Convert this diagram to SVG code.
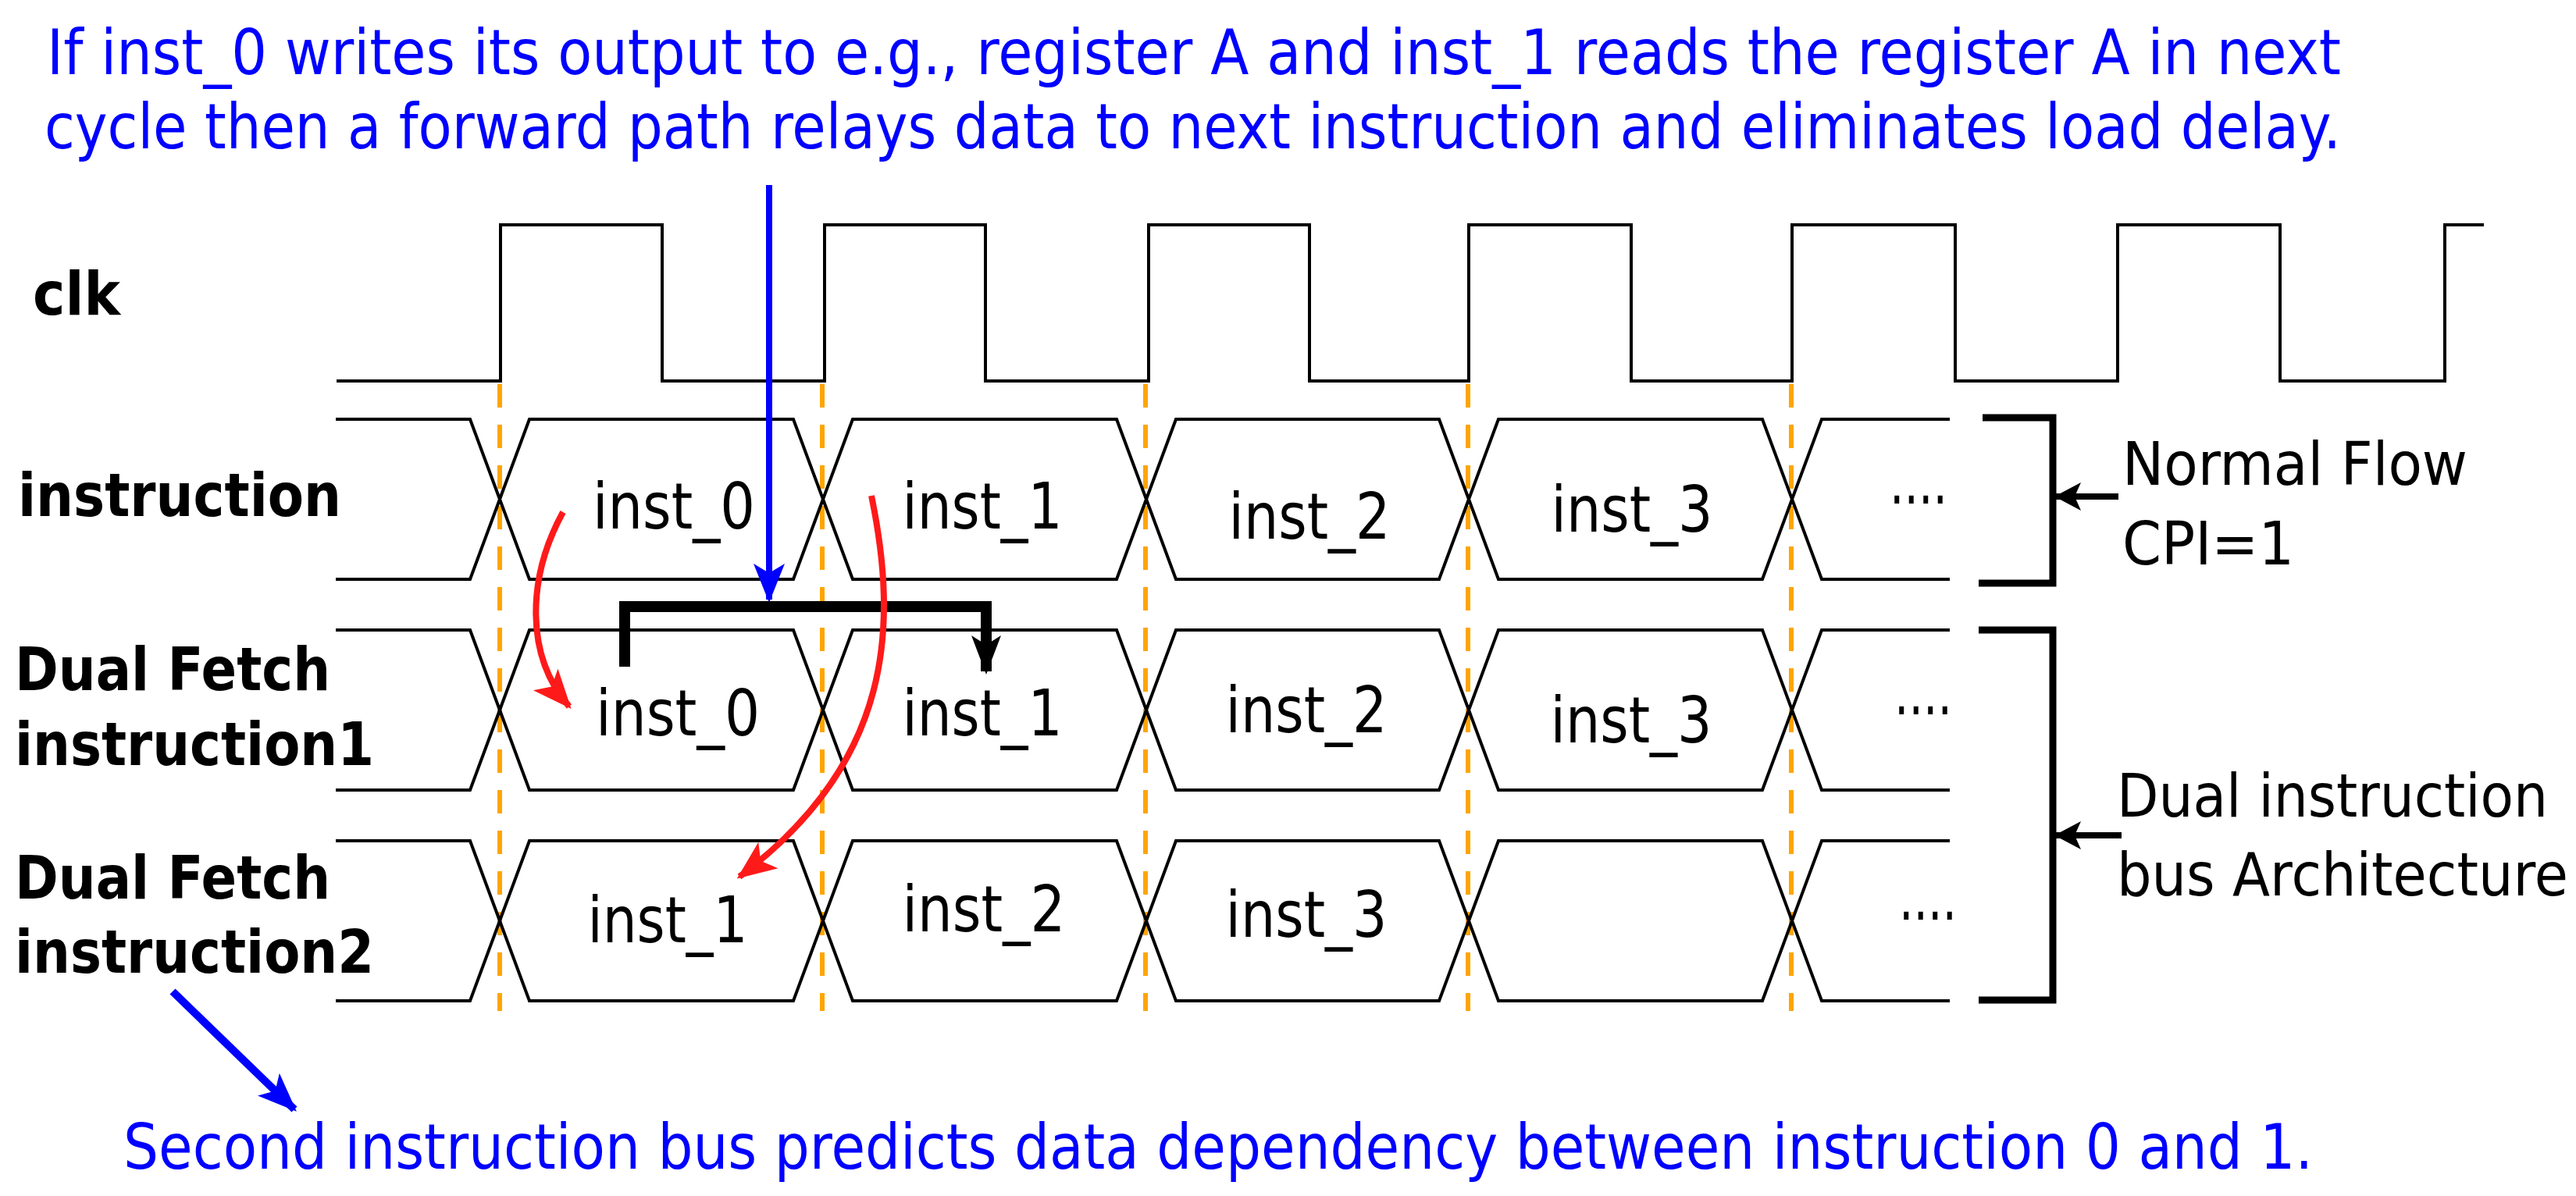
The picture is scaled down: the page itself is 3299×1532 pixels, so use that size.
<svg xmlns="http://www.w3.org/2000/svg" width="3299" height="1532" viewBox="0 0 3299 1532">
<style>
.t{font-family:"DejaVu Sans","Liberation Sans",sans-serif}
.lab{font-size:76px;font-weight:bold;fill:#000}
.ins{font-size:82px;fill:#000;text-anchor:middle}
.dots{font-size:82px;fill:#000;font-family:"DejaVu Sans",sans-serif}
.blue{font-size:80px;fill:#0000FF}
.side{font-size:76px;fill:#000}
.sig{fill:none;stroke:#000;stroke-width:4}
.dash{stroke:#FFA500;stroke-width:6;stroke-dasharray:30 22}
</style>
<defs>
<marker id="mb" markerUnits="userSpaceOnUse" markerWidth="50" markerHeight="50" viewBox="0 0 50 50" refX="46" refY="25" orient="auto"><path d="M0,5 L50,25 L0,45 L12,25 Z" fill="#0000FF"/></marker>
<marker id="mr" markerUnits="userSpaceOnUse" markerWidth="50" markerHeight="50" viewBox="0 0 50 50" refX="46" refY="25" orient="auto"><path d="M0,4 L50,25 L0,46 L12,25 Z" fill="#FF1A1A"/></marker>
<marker id="mk" markerUnits="userSpaceOnUse" markerWidth="50" markerHeight="50" viewBox="0 0 50 50" refX="46" refY="25" orient="auto"><path d="M0,6 L50,25 L0,44 L12,25 Z" fill="#000"/></marker>
<marker id="mk2" markerUnits="userSpaceOnUse" markerWidth="34" markerHeight="40" viewBox="0 0 34 40" refX="32" refY="20" orient="auto"><path d="M0,2 L34,20 L0,38 L8,20 Z" fill="#000"/></marker>
</defs>
<rect width="3299" height="1532" fill="#fff"/>
<g id="note-top" class="t blue">
<text x="60" y="95" textLength="2938" lengthAdjust="spacingAndGlyphs">If inst_0 writes its output to e.g., register A and inst_1 reads the register A in next</text>
<text x="57" y="190" textLength="2941" lengthAdjust="spacingAndGlyphs">cycle then a forward path relays data to next instruction and eliminates load delay.</text>
</g>
<g id="note-bottom" class="t blue"><text x="158" y="1497" textLength="2804" lengthAdjust="spacingAndGlyphs">Second instruction bus predicts data dependency between instruction 0 and 1.</text></g>
<g id="labels" class="t lab">
<text x="42" y="403" textLength="112" lengthAdjust="spacingAndGlyphs">clk</text>
<text x="23" y="661" textLength="414" lengthAdjust="spacingAndGlyphs">instruction</text>
<text x="19" y="884" textLength="404" lengthAdjust="spacingAndGlyphs">Dual Fetch</text>
<text x="19" y="980" textLength="460" lengthAdjust="spacingAndGlyphs">instruction1</text>
<text x="19" y="1151" textLength="404" lengthAdjust="spacingAndGlyphs">Dual Fetch</text>
<text x="19" y="1246" textLength="460" lengthAdjust="spacingAndGlyphs">instruction2</text>
</g>
<g id="clk"><path class="sig" d="M431,488 H641 V288 H848 V488 H1056 V288 H1262 V488 H1471 V288 H1677 V488 H1881 V288 H2089 V488 H2295 V288 H2504 V488 H2712 V288 H2920 V488 H3131 V288 H3181"/></g>
<g id="edges">
<line class="dash" x1="640" y1="492" x2="640" y2="1295"/>
<line class="dash" x1="1053" y1="492" x2="1053" y2="1295"/>
<line class="dash" x1="1467" y1="492" x2="1467" y2="1295"/>
<line class="dash" x1="1880" y1="492" x2="1880" y2="1295"/>
<line class="dash" x1="2294" y1="492" x2="2294" y2="1295"/>
</g>
<g id="row-instruction">
<path class="sig" d="M430,537 H602 L678,742 H1016 L1092,537 H1430 L1506,742 H1843 L1919,537 H2257 L2333,742 H2497"/>
<path class="sig" d="M430,742 H602 L678,537 H1016 L1092,742 H1430 L1506,537 H1843 L1919,742 H2257 L2333,537 H2497"/>
<g class="t ins"><text x="863" y="677" textLength="208" lengthAdjust="spacingAndGlyphs">inst_0</text><text x="1258" y="677" textLength="205" lengthAdjust="spacingAndGlyphs">inst_1</text><text x="1677" y="690" textLength="207" lengthAdjust="spacingAndGlyphs">inst_2</text><text x="2090" y="681" textLength="207" lengthAdjust="spacingAndGlyphs">inst_3</text></g>
<text class="dots" x="2420" y="668" textLength="74" lengthAdjust="spacingAndGlyphs">····</text>
</g>
<g id="row-df1">
<path class="sig" d="M430,807 H602 L678,1012 H1016 L1092,807 H1430 L1506,1012 H1843 L1919,807 H2257 L2333,1012 H2497"/>
<path class="sig" d="M430,1012 H602 L678,807 H1016 L1092,1012 H1430 L1506,807 H1843 L1919,1012 H2257 L2333,807 H2497"/>
<g class="t ins"><text x="868" y="942" textLength="210" lengthAdjust="spacingAndGlyphs">inst_0</text><text x="1258" y="942" textLength="205" lengthAdjust="spacingAndGlyphs">inst_1</text><text x="1673" y="938" textLength="207" lengthAdjust="spacingAndGlyphs">inst_2</text><text x="2089" y="951" textLength="207" lengthAdjust="spacingAndGlyphs">inst_3</text></g>
<text class="dots" x="2426" y="938" textLength="74" lengthAdjust="spacingAndGlyphs">····</text>
</g>
<g id="row-df2">
<path class="sig" d="M430,1077 H602 L678,1282 H1016 L1092,1077 H1430 L1506,1282 H1843 L1919,1077 H2257 L2333,1282 H2497"/>
<path class="sig" d="M430,1282 H602 L678,1077 H1016 L1092,1282 H1430 L1506,1077 H1843 L1919,1282 H2257 L2333,1077 H2497"/>
<g class="t ins"><text x="855" y="1207" textLength="205" lengthAdjust="spacingAndGlyphs">inst_1</text><text x="1260" y="1193" textLength="209" lengthAdjust="spacingAndGlyphs">inst_2</text><text x="1673" y="1200" textLength="207" lengthAdjust="spacingAndGlyphs">inst_3</text></g>
<text class="dots" x="2432" y="1201" textLength="74" lengthAdjust="spacingAndGlyphs">····</text>
</g>
<g id="brace-normal">
<path d="M2539,535 H2629 V747 H2534" fill="none" stroke="#000" stroke-width="9"/>
<text class="t side" x="2718" y="621" textLength="442" lengthAdjust="spacingAndGlyphs">Normal Flow</text>
<text class="t side" x="2718" y="723" textLength="220" lengthAdjust="spacingAndGlyphs">CPI=1</text>
</g>
<g id="brace-dual">
<path d="M2534,807 H2629 V1281 H2534" fill="none" stroke="#000" stroke-width="9"/>
<text class="t side" x="2711" y="1046" textLength="552" lengthAdjust="spacingAndGlyphs">Dual instruction</text>
<text class="t side" x="2711" y="1147" textLength="578" lengthAdjust="spacingAndGlyphs">bus Architecture</text>
</g>
<g id="connectors" fill="none">
<line x1="2713" y1="636" x2="2633" y2="636" stroke="#000" stroke-width="8" marker-end="url(#mk2)"/>
<line x1="2717" y1="1070" x2="2633" y2="1070" stroke="#000" stroke-width="8" marker-end="url(#mk2)"/>
<line x1="985" y1="237" x2="985" y2="768" stroke="#0000FF" stroke-width="8" marker-end="url(#mb)"/>
<line x1="221" y1="1270" x2="377" y2="1421" stroke="#0000FF" stroke-width="10" marker-end="url(#mb)"/>
<path d="M800,854 V777 H1263 V860" stroke="#000" stroke-width="14" marker-end="url(#mk)"/>
<path d="M721,656 C675,740 672,840 729,905" stroke="#FF1A1A" stroke-width="8" marker-end="url(#mr)"/>
<path d="M1116,635 C1150,800 1145,975 947,1123" stroke="#FF1A1A" stroke-width="8" marker-end="url(#mr)"/>
</g>
</svg>
